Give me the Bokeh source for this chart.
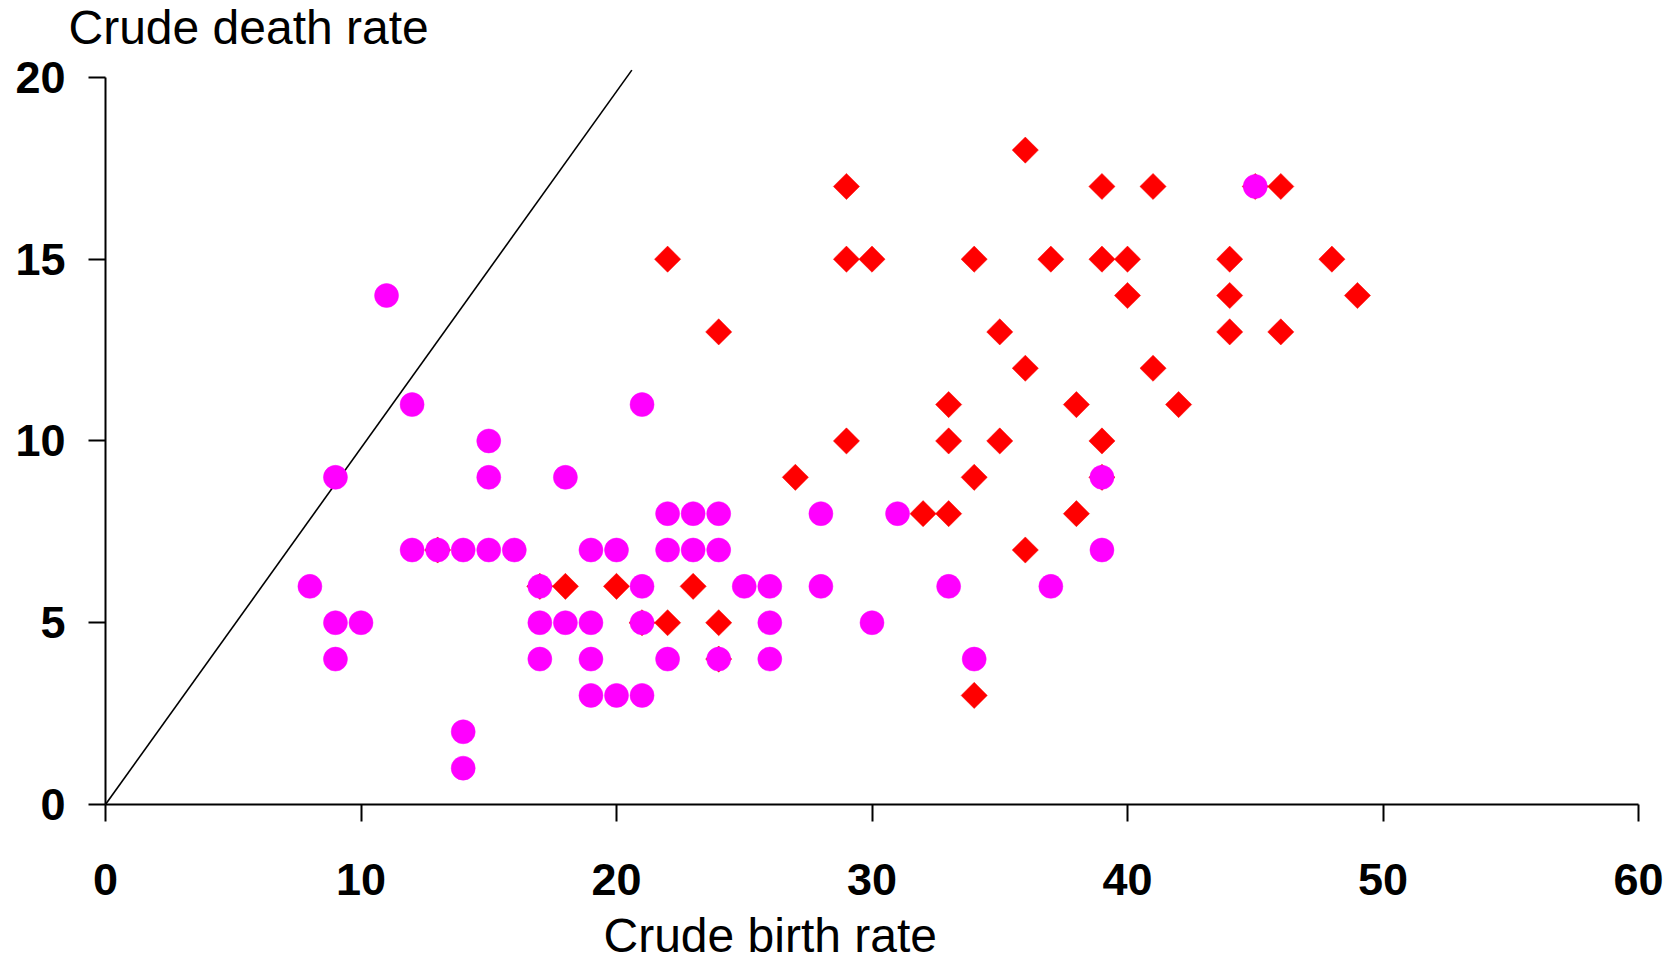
import math
from bokeh.plotting import figure
from bokeh.models import FixedTicker, Title, Range1d
from bokeh.embed import file_html
from bokeh.resources import INLINE

# Magenta circles: (crude birth rate, crude death rate)
circle_birth = [8, 9, 9, 9, 10, 11, 12, 12, 13, 14, 14, 14, 15, 15, 15, 16, 17, 17, 17,
                18, 18, 19, 19, 19, 19, 20, 20, 21, 21, 21, 21, 22, 22, 22, 23, 23,
                24, 24, 24, 25, 26, 26, 26, 28, 28, 30, 31, 33, 34, 37, 39, 39, 45]
circle_death = [6, 9, 5, 4, 5, 14, 11, 7, 7, 7, 2, 1, 10, 9, 7, 7, 6, 5, 4,
                9, 5, 7, 5, 4, 3, 7, 3, 11, 6, 5, 3, 8, 7, 4, 8, 7,
                8, 7, 4, 6, 6, 5, 4, 8, 6, 5, 8, 6, 4, 6, 9, 7, 17]

# Red diamonds
diamond_birth = [13, 17, 18, 20, 21, 22, 22, 23, 24, 24, 24, 27, 29, 29, 29, 30, 32, 33,
                 33, 33, 34, 34, 34, 35, 35, 36, 36, 36, 37, 38, 38, 39, 39, 39, 39,
                 40, 40, 41, 41, 42, 44, 44, 44, 45, 46, 46, 48, 49]
diamond_death = [7, 6, 6, 6, 5, 5, 15, 6, 5, 4, 13, 9, 17, 15, 10, 15, 8, 11,
                 10, 8, 15, 9, 3, 13, 10, 18, 12, 7, 15, 11, 8, 17, 15, 10, 9,
                 15, 14, 17, 12, 11, 15, 14, 13, 17, 17, 13, 15, 14]

# Reference line end points
line_x = [0, 20.6]
line_y = [0, 20.2]

x_ticks = [0, 10, 20, 30, 40, 50, 60]
y_ticks = [0, 5, 10, 15, 20]

x_title = "Crude birth rate"
y_title = "Crude death rate"

FONT = "Liberation Sans"

p = figure(width=1679, height=962, output_backend="svg", toolbar_location=None,
           x_range=Range1d(0, 60), y_range=Range1d(0, 20.3),
           min_border_left=105, min_border_right=41, min_border_top=66,
           min_border_bottom=158)

p.background_fill_color = "white"
p.border_fill_color = "white"
p.outline_line_color = None
p.grid.visible = False

# the trailing empty line (with a small line height) lifts the title a little
p.title.text = y_title + "\n"
p.title.text_font = FONT
p.title.text_font_size = "48px"
p.title.text_font_style = "normal"
p.title.text_color = "black"
p.title.text_line_height = 0.2
p.title.align = "left"
p.title.vertical_align = "top"
p.title.offset = -37
p.title.standoff = 0

for ax, ticks in ((p.xaxis[0], x_ticks), (p.yaxis[0], y_ticks)):
    ax.ticker = FixedTicker(ticks=ticks)
    ax.axis_line_width = 2
    ax.axis_line_color = "black"
    ax.major_tick_line_width = 2
    ax.major_tick_line_color = "black"
    ax.major_tick_out = 17
    ax.major_tick_in = 0
    ax.minor_tick_line_color = None
    ax.major_label_text_font = FONT
    ax.major_label_text_font_size = "45px"
    ax.major_label_text_font_style = "bold"
    ax.major_label_text_color = "black"

p.yaxis[0].bounds = (0, 20)
p.yaxis[0].major_label_standoff = 23
p.xaxis[0].major_label_standoff = 42

# the leading empty line (with a small line height) lowers the title a little
xt = Title(text="\n" + x_title, align="left", vertical_align="bottom", offset=498,
           text_font=FONT, text_font_size="48px", text_font_style="normal",
           text_color="black", text_line_height=0.18, standoff=0)
p.add_layout(xt, "below")

p.line(line_x, line_y, line_color="black", line_width=1.6)

p.scatter(diamond_birth, diamond_death, marker="square", angle=math.pi / 4,
          size=18.5, fill_color="#FF0000", line_color="#FF0000", line_width=0.5)
p.scatter(circle_birth, circle_death, marker="circle", size=24,
          fill_color="#FF00FF", line_color="#FF00FF", line_width=0.5)

open("out.html", "w").write(file_html(p, INLINE))
